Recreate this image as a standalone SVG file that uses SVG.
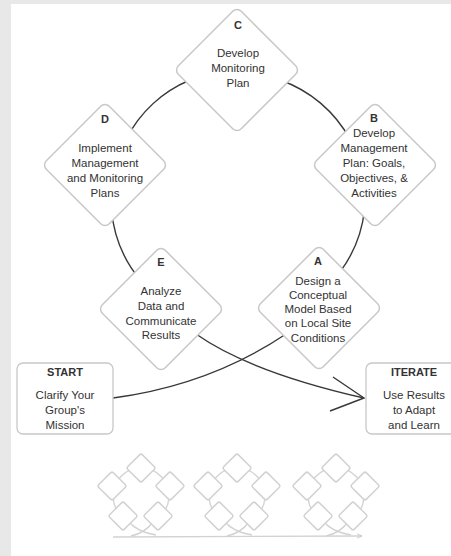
<svg xmlns="http://www.w3.org/2000/svg" width="451" height="556" viewBox="0 0 451 556">
<defs>
<style>
.dia{fill:#fff;stroke:#c8c8c8;stroke-width:1.5}
.box{fill:#fff;stroke:#c8c8c8;stroke-width:1.3}
.t{font-family:"Liberation Sans",Arial,sans-serif;font-size:11.5px;fill:#333;text-anchor:middle}
.h{font-weight:bold;font-size:11px}
.con{fill:none;stroke:#383838;stroke-width:1.4}
.mini{fill:#fff;stroke:#d2d2d2;stroke-width:1.5}
.mcon{fill:none;stroke:#d2d2d2;stroke-width:1.3}
</style>
<marker id="ma" viewBox="0 0 10 10" refX="9" refY="5" markerWidth="6" markerHeight="6" orient="auto" markerUnits="userSpaceOnUse">
<path d="M0,1 L9,5 L0,9" fill="none" stroke="#c8c8c8" stroke-width="1.5"/>
</marker>
<g id="cluster">
<path class="mcon" d="M159,517.4 A28,28 0 1 0 123,517.4"/>
<path class="mcon" d="M128,521 Q137,532 156,535"/>
<path class="mcon" d="M131,536 Q145,533 153,522"/>
<rect class="mini" x="-10.3" y="-10.3" width="20.6" height="20.6" rx="2" transform="translate(141,468) rotate(45)"/>
<rect class="mini" x="-10.3" y="-10.3" width="20.6" height="20.6" rx="2" transform="translate(112,486) rotate(45)"/>
<rect class="mini" x="-10.3" y="-10.3" width="20.6" height="20.6" rx="2" transform="translate(170,486) rotate(45)"/>
<rect class="mini" x="-10.3" y="-10.3" width="20.6" height="20.6" rx="2" transform="translate(123,516) rotate(45)"/>
<rect class="mini" x="-10.3" y="-10.3" width="20.6" height="20.6" rx="2" transform="translate(158,516) rotate(45)"/>
</g>
</defs>
<rect x="0" y="0" width="451" height="556" fill="#e7e8e7"/>
<rect x="11" y="4" width="440" height="552" fill="#fff"/>

<g id="connectors">
<path class="con" d="M190,80 A127,127 0 0 0 126,139.4"/>
<path class="con" d="M280,80 A127,127 0 0 1 350,139.4"/>
<path class="con" d="M111.5,210 A127,127 0 0 0 140.7,280.6"/>
<path class="con" d="M364.5,210 A127,127 0 0 1 340,272"/>
<path class="con" d="M113,398 Q210,385 286,334"/>
<path class="con" d="M196,334 Q250,372 364,398"/>
<path class="con" d="M333,377 L364,398 L330,411"/>
</g>

<g id="nodeC">
<rect class="dia" x="-44.5" y="-44.5" width="89" height="89" rx="6" transform="translate(237,70) rotate(45)"/>
<text class="t h" x="238" y="29">C</text>
<text class="t" x="238" y="57">Develop</text>
<text class="t" x="238" y="72">Monitoring</text>
<text class="t" x="238" y="87">Plan</text>
</g>
<g id="nodeD">
<rect class="dia" x="-44.5" y="-44.5" width="89" height="89" rx="6" transform="translate(105,165) rotate(45)"/>
<text class="t h" x="105" y="123">D</text>
<text class="t" x="105" y="152">Implement</text>
<text class="t" x="105" y="167">Management</text>
<text class="t" x="105" y="182">and Monitoring</text>
<text class="t" x="105" y="197">Plans</text>
</g>
<g id="nodeB">
<rect class="dia" x="-44.5" y="-44.5" width="89" height="89" rx="6" transform="translate(375,165) rotate(45)"/>
<text class="t h" x="374" y="122">B</text>
<text class="t" x="374" y="137">Develop</text>
<text class="t" x="374" y="152">Management</text>
<text class="t" x="374" y="167">Plan: Goals,</text>
<text class="t" x="374" y="182">Objectives, &amp;</text>
<text class="t" x="374" y="197">Activities</text>
</g>
<g id="nodeE">
<rect class="dia" x="-44.5" y="-44.5" width="89" height="89" rx="6" transform="translate(161,309) rotate(45)"/>
<text class="t h" x="161" y="266">E</text>
<text class="t" x="161" y="295">Analyze</text>
<text class="t" x="161" y="310">Data and</text>
<text class="t" x="161" y="325">Communicate</text>
<text class="t" x="161" y="339">Results</text>
</g>
<g id="nodeA">
<rect class="dia" x="-44.5" y="-44.5" width="89" height="89" rx="6" transform="translate(319,308) rotate(45)"/>
<text class="t h" x="318" y="265">A</text>
<text class="t" x="318" y="285">Design a</text>
<text class="t" x="318" y="299">Conceptual</text>
<text class="t" x="318" y="313">Model Based</text>
<text class="t" x="318" y="327">on Local Site</text>
<text class="t" x="318" y="342">Conditions</text>
</g>
<g id="start">
<rect class="box" x="17" y="363" width="96" height="71" rx="6"/>
<text class="t h" x="65" y="376">START</text>
<text class="t" x="65" y="399">Clarify Your</text>
<text class="t" x="65" y="414">Group's</text>
<text class="t" x="65" y="429">Mission</text>
</g>
<g id="iterate">
<rect class="box" x="366" y="363" width="96" height="71" rx="6"/>
<text class="t h" x="414" y="376">ITERATE</text>
<text class="t" x="414" y="399">Use Results</text>
<text class="t" x="414" y="414">to Adapt</text>
<text class="t" x="414" y="429">and Learn</text>
</g>

<g id="decoration">
<path class="mcon" d="M113,537 L362,536" marker-end="url(#ma)"/>
<use href="#cluster"/>
<use href="#cluster" transform="translate(96,0)"/>
<use href="#cluster" transform="translate(195,0)"/>
</g>
</svg>
